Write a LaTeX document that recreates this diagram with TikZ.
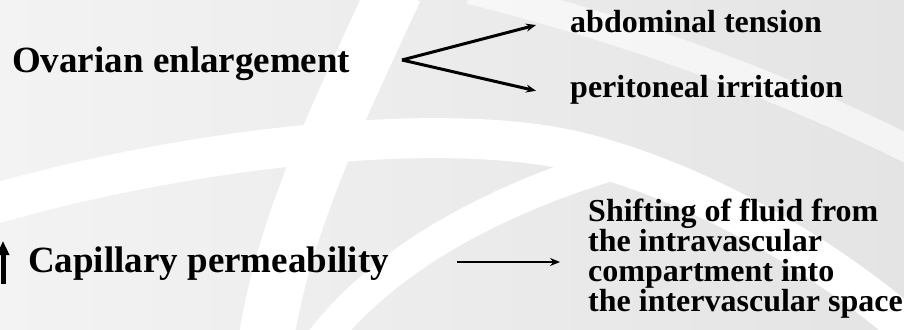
\documentclass[tikz,border=0pt]{standalone}
\usepackage{fontspec}
\setmainfont{Liberation Serif}
\usetikzlibrary{arrows.meta,calc}
\definecolor{slidelight}{HTML}{F3F3F3}
\definecolor{slidedark}{HTML}{E4E4E4}
\begin{document}
\begin{tikzpicture}[x=1pt, y=-1pt,
    bigtext/.style={inner sep=0pt, font=\fontsize{37}{40}\selectfont\bfseries, anchor=base west},
    smalltext/.style={inner sep=0pt, font=\fontsize{32}{30}\selectfont\bfseries, anchor=base west, align=left},
    band/.style={draw=white, line width=#1},
    pointer/.style={line width=3pt, -{Stealth[length=10pt, width=8pt]}}]
        \useasboundingbox (0,0) rectangle (904,329);
        \clip (0,0) rectangle (904,329);

        % slide background
        \shade[left color=slidelight, right color=slidedark] (0,0) rectangle (904,329);
        \draw[band=55] (395,-10) .. controls (340,110) and (285,220) .. (266,340);
        \draw[band=40] (-10,205) .. controls (180,150) and (430,120) .. (570,150) .. controls (700,180) and (830,260) .. (910,330);
        \draw[band=32] (610,165) .. controls (480,205) and (380,265) .. (322,340);
        \draw[band=28, draw opacity=0.6] (470,-10) .. controls (650,35) and (800,95) .. (910,150);

        % top row
        \node[bigtext] (ovar) at (12,72) {Ovarian enlargement};
        \node[smalltext] (abd) at (570,33) {abdominal tension};
        \node[smalltext] (peri) at (570,97) {peritoneal irritation};
        \coordinate (apex) at (402,60);
        \draw[pointer] (apex) -- ($(abd.west)+(-34,3)$);
        \draw[pointer] (apex) -- ($(peri.west)+(-34,1.5)$);

        % bottom row
        \draw[line width=5pt, -{Triangle[length=14pt, width=12pt]}] (3,284) -- (3,241);
        \node[bigtext] (cap) at (28,272) {Capillary permeability};
        \node[smalltext, anchor=north west] (shift) at (588,199) {Shifting of fluid from\\the intravascular\\compartment into\\the intervascular space};
        \coordinate (start) at (457,262);
        \draw[pointer, line width=2.6pt, shorten >=28pt] (start) -- (start -| shift.west);
\end{tikzpicture}
\end{document}
